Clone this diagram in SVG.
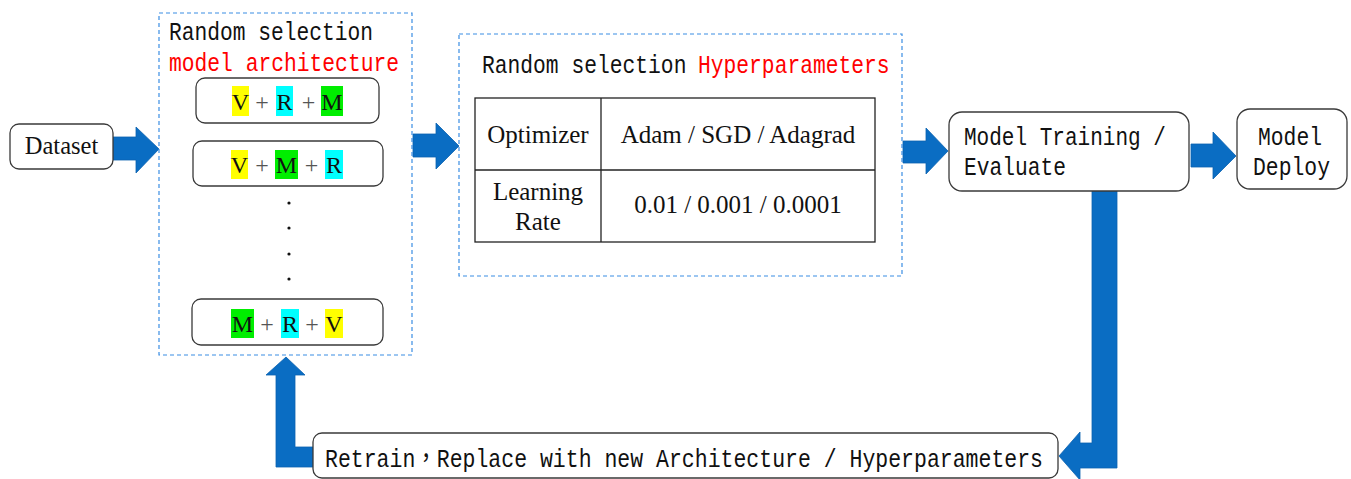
<svg xmlns="http://www.w3.org/2000/svg" width="1351" height="479" viewBox="0 0 1351 479">
  <style>
    .box { fill: #ffffff; stroke: #3a3a3a; stroke-width: 1.3; }
    .group { fill: none; stroke: #3b8ee3; stroke-width: 1.2; stroke-dasharray: 4 3; }
    .arrow { fill: #0a6dc3; stroke: #0b62b0; stroke-width: 0.8; }
    .mono { font-family: "Liberation Mono", "Noto Sans CJK TC", monospace; font-size: 25.5px; fill: #111; }
    .mono.narrow { font-size: 21.3px; }
    .red { fill: #ff0000; }
    .serif { font-family: "Liberation Serif", "Times New Roman", serif; fill: #111; }
    .arch { font-size: 24px; text-anchor: middle; }
    .plus { fill: #555; }
    .cell { font-size: 25px; text-anchor: middle; }
    .hy { fill: #ffff00; }
    .hc { fill: #00ffff; }
    .hg { fill: #00ee00; }
    .grid { fill: none; stroke: #222; stroke-width: 1.3; }
  </style>

  <!-- connectors: block arrows between stages and the feedback loop -->
  <g id="connectors">
    <path class="arrow" d="M113,137 H136 V127 L159,149 L136,173 V160 H113 Z"/>
    <path class="arrow" d="M413,134 H436 V123 L459,146 L436,169 V157 H413 Z"/>
    <path class="arrow" d="M903,141 H926 V128 L948,151 L926,174 V163 H903 Z"/>
    <path class="arrow" d="M1191,144 H1213 V132 L1236,156 L1213,179 V167 H1191 Z"/>
    <!-- evaluation result fed back down to the retrain step -->
    <path class="arrow" d="M1092,191 H1117 V468 H1080 V480 L1059,456 L1080,432 V443 H1092 Z"/>
    <!-- retrain step back up to the architecture selection -->
    <path class="arrow" d="M313,447 V467 H276 V375 H266 L286,357 L305,375 H295 V447 Z"/>
  </g>

  <g id="dataset">
    <rect class="box" x="10" y="124" width="103" height="45" rx="9"/>
    <text class="serif cell" x="61.5" y="154" style="font-size:24.5px">Dataset</text>
  </g>

  <g id="architecture-selection">
    <rect class="group" x="159" y="13" width="253" height="342"/>
    <text class="mono" x="169" y="40" textLength="204" lengthAdjust="spacingAndGlyphs">Random selection</text>
    <text class="mono red" x="169" y="71" textLength="230" lengthAdjust="spacingAndGlyphs">model architecture</text>

    <g id="arch-vrm">
      <rect class="box" x="196" y="78" width="183" height="45" rx="9"/>
      <rect class="hy" x="232" y="86" width="17" height="30"/>
      <rect class="hc" x="276" y="86" width="17" height="30"/>
      <rect class="hg" x="321" y="86" width="22" height="30"/>
      <text class="serif arch" y="110"><tspan x="240.5">V</tspan><tspan class="plus" x="262">+</tspan><tspan x="284.5">R</tspan><tspan class="plus" x="308.5">+</tspan><tspan x="332">M</tspan></text>
    </g>

    <g id="arch-vmr">
      <rect class="box" x="193" y="141" width="190" height="45" rx="9"/>
      <rect class="hy" x="231" y="150" width="17" height="29"/>
      <rect class="hg" x="275" y="150" width="23" height="29"/>
      <rect class="hc" x="325" y="150" width="18" height="29"/>
      <text class="serif arch" y="173"><tspan x="239.5">V</tspan><tspan class="plus" x="262">+</tspan><tspan x="286.5">M</tspan><tspan class="plus" x="311.5">+</tspan><tspan x="334">R</tspan></text>
    </g>

    <g id="arch-more">
      <circle cx="289" cy="203" r="1.6" fill="#111"/>
      <circle cx="289" cy="228" r="1.6" fill="#111"/>
      <circle cx="289" cy="254" r="1.6" fill="#111"/>
      <circle cx="289" cy="279" r="1.6" fill="#111"/>
    </g>

    <g id="arch-mrv">
      <rect class="box" x="192" y="299" width="191" height="46" rx="9"/>
      <rect class="hg" x="231" y="309" width="23" height="29"/>
      <rect class="hc" x="281" y="309" width="18" height="29"/>
      <rect class="hy" x="325" y="309" width="18" height="29"/>
      <text class="serif arch" y="332"><tspan x="242.5">M</tspan><tspan class="plus" x="267">+</tspan><tspan x="290">R</tspan><tspan class="plus" x="312">+</tspan><tspan x="334">V</tspan></text>
    </g>
  </g>

  <g id="hyperparameter-selection">
    <rect class="group" x="459" y="34" width="443" height="242"/>
    <!-- title set at its natural monospace width, stretched vertically about the baseline -->
    <g transform="matrix(1,0,0,1.2,0,-14.6)">
      <text class="mono narrow" x="482" y="73">Random selection</text>
      <text class="mono narrow red" x="698" y="73">Hyperparameters</text>
    </g>
    <rect class="grid" x="475" y="98" width="400" height="144"/>
    <line class="grid" x1="601" y1="98" x2="601" y2="242"/>
    <line class="grid" x1="475" y1="170" x2="875" y2="170"/>
    <text class="serif cell" x="538" y="143">Optimizer</text>
    <text class="serif cell" x="738" y="143">Adam / SGD / Adagrad</text>
    <text class="serif cell" x="538" y="200">Learning</text>
    <text class="serif cell" x="538" y="230">Rate</text>
    <text class="serif cell" x="738" y="213">0.01 / 0.001 / 0.0001</text>
  </g>

  <g id="training">
    <rect class="box" x="949" y="112" width="240" height="79" rx="13"/>
    <text class="mono" x="964" y="145" textLength="202" lengthAdjust="spacingAndGlyphs">Model Training /</text>
    <text class="mono" x="964" y="175" textLength="102" lengthAdjust="spacingAndGlyphs">Evaluate</text>
  </g>

  <g id="deploy">
    <rect class="box" x="1237" y="109" width="110" height="80" rx="13"/>
    <text class="mono" x="1258" y="145" textLength="64" lengthAdjust="spacingAndGlyphs">Model</text>
    <text class="mono" x="1253" y="175" textLength="77" lengthAdjust="spacingAndGlyphs">Deploy</text>
  </g>

  <g id="retrain">
    <rect class="box" x="313" y="433" width="745" height="45" rx="9"/>
    <text class="mono" x="325" y="467" textLength="718" lengthAdjust="spacingAndGlyphs">Retrain，Replace with new Architecture / Hyperparameters</text>
  </g>
</svg>
